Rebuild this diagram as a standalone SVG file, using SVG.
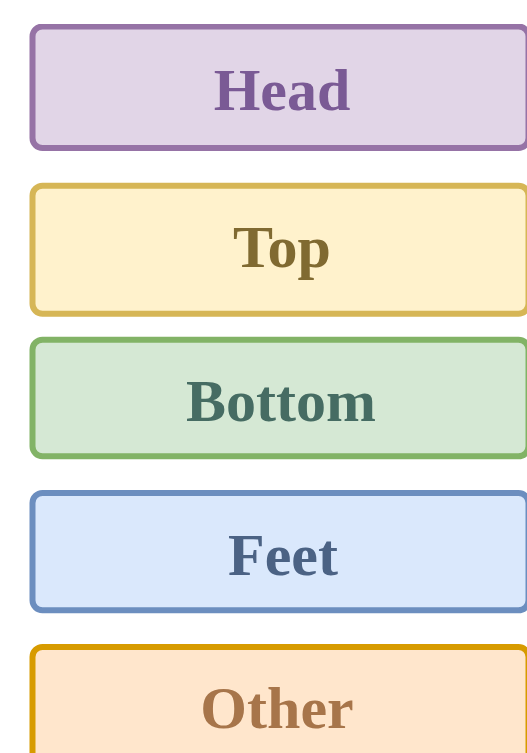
<svg xmlns="http://www.w3.org/2000/svg" width="527" height="753" viewBox="0 0 527 753">
<style>
.box{stroke-width:6}
.lbl{font-family:"Liberation Serif","Times New Roman",serif;font-weight:bold;font-size:60px;text-anchor:middle}
</style>
<defs>
<clipPath id="clip"><rect x="0" y="24" width="527" height="729"/></clipPath>
</defs>
<rect width="527" height="753" fill="#ffffff"/>
<g clip-path="url(#clip)">
<g id="head">
<rect class="box" x="32.5" y="26.5" width="496" height="121.5" rx="10" fill="#e1d5e7" stroke="#9673a6"/>
<text class="lbl" x="282" y="110" fill="#7a5a95">Head</text>
</g>
<g id="top">
<rect class="box" x="32.5" y="185.7" width="496" height="128" rx="10" fill="#fff2cc" stroke="#d6b656"/>
<text class="lbl" x="282" y="267.3" fill="#806a31">Top</text>
</g>
<g id="bottom">
<rect class="box" x="32.5" y="339.7" width="496" height="116.6" rx="10" fill="#d5e8d4" stroke="#82b366"/>
<text class="lbl" x="281" y="420.7" fill="#466c63">Bottom</text>
</g>
<g id="feet">
<rect class="box" x="32.5" y="493" width="496" height="117.3" rx="10" fill="#dae8fc" stroke="#6c8ebf"/>
<text class="lbl" x="283" y="575" fill="#4b6284">Feet</text>
</g>
<g id="other">
<rect class="box" x="32.5" y="647" width="496" height="130" rx="10" fill="#ffe6cc" stroke="#d79b00"/>
<text class="lbl" x="277" y="728" fill="#a7754a">Other</text>
</g>
</g>
<g id="connectors"/>
</svg>
